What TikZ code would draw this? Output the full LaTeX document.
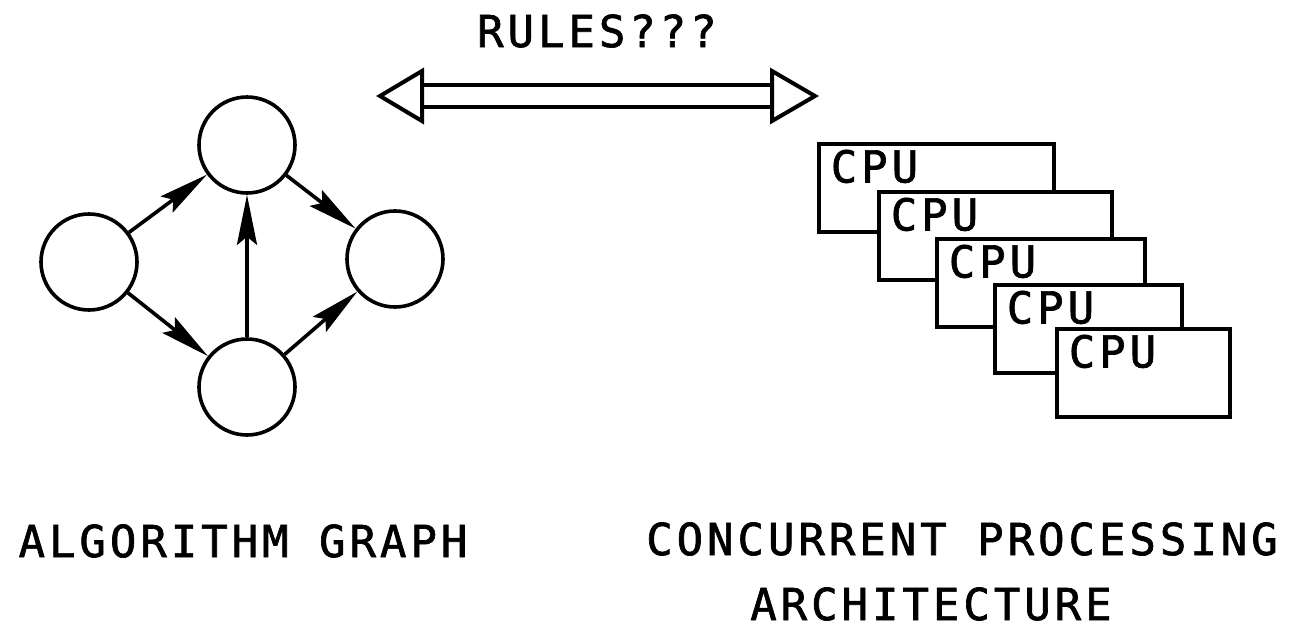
\documentclass[tikz,border=0pt]{standalone}
\usepackage{fontspec}
\newfontfamily\plotterfont[LetterSpace=9,FakeBold=1.5]{DejaVu Sans Mono}
\usetikzlibrary{arrows.meta}

\begin{document}
\begin{tikzpicture}[x=0.5pt,y=-0.5pt,line width=1.8pt,
  font=\plotterfont\fontsize{22}{26}\selectfont,
  vertex/.style={draw,circle,minimum size=48pt,inner sep=0pt},
  edge/.style={-{Stealth[length=25pt,width=10pt,inset=4pt]}},
  cpubox/.style={draw,fill=white,anchor=north west,minimum height=44pt,inner sep=0pt},
  cpulabel/.style={anchor=north west,inner sep=0pt}]

\useasboundingbox (0,0) rectangle (1298,628);

\begin{scope}
\node[vertex] (top) at (247,145) {};
\node[vertex] (left) at (89,262) {};
\node[vertex] (right) at (395,259) {};
\node[vertex] (bot) at (247,387) {};

\draw[edge] (left) -- (top);
\draw[edge] (left) -- (bot);
\draw[edge] (bot) -- (top);
\draw[edge] (top) -- (right);
\draw[edge] (bot) -- (right);
\end{scope}

\begin{scope}[line width=2pt]
\coordinate (la) at (380,96);
\coordinate (ra) at (815,96);
\coordinate (lb) at (422,96);
\coordinate (rb) at (772,96);
\draw (la) -- ([yshift=12.5pt]lb) -- ([yshift=-12.5pt]lb) -- cycle;
\draw (ra) -- ([yshift=12.5pt]rb) -- ([yshift=-12.5pt]rb) -- cycle;
\draw ([yshift=5.5pt]lb) -- ([yshift=5.5pt]rb);
\draw ([yshift=-5.5pt]lb) -- ([yshift=-5.5pt]rb);
\end{scope}
\node[anchor=base] (rules) at (597,47) {RULES???};

\foreach \n/\x/\y/\w in {1/817/142/235,2/877/190/233,3/935/237/208,4/993/283/187,5/1055/327/173}{
  \node[cpubox,minimum width=\w*0.5pt] (cpu\n) at (\x,\y) {};
  \node[cpulabel] (lab\n) at ([xshift=6pt,yshift=-3pt]cpu\n.north west) {CPU};
}

\node[anchor=base] (algo) at (243,557) {ALGORITHM GRAPH};
\node[anchor=base] (conc) at (962,555) {CONCURRENT PROCESSING};
\node[anchor=base] (arch) at (931,620) {ARCHITECTURE};

\end{tikzpicture}
\end{document}
